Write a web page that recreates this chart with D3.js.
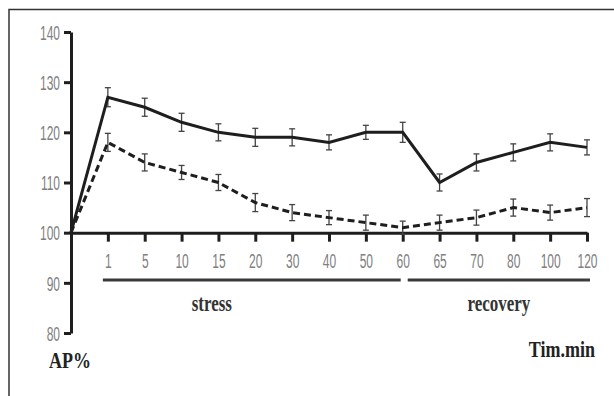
<!DOCTYPE html>
<html>
<head>
<meta charset="utf-8">
<script src="https://cdn.jsdelivr.net/npm/d3@7"></script>
<style>
  body { margin: 0; background: #fff; }
  svg { display: block; }
</style>
</head>
<body>
<div id="chart"></div>
<script>
// time points (min), 0 is the baseline at the origin
const times = ["0", "1", "5", "10", "15", "20", "30", "40", "50", "60", "65", "70", "80", "100", "120"];
// solid line
const solidAP = [100, 127, 125, 122, 120, 119, 119, 118, 120, 120, 110, 114, 116, 118, 117];
const solidErr = [0, 1.9, 1.8, 1.8, 1.7, 1.8, 1.7, 1.5, 1.4, 2.0, 1.7, 1.7, 1.7, 1.7, 1.5];
// dashed line
const dashedAP = [100, 118, 114, 112, 110, 106, 104, 103, 102, 101, 102, 103, 105, 104, 105];
const dashedErr = [0, 1.8, 1.7, 1.4, 1.6, 1.8, 1.6, 1.4, 1.5, 1.3, 1.5, 1.5, 1.7, 1.5, 1.8];
const yTicks = [80, 90, 100, 110, 120, 130, 140];
const phases = ["stress", "recovery"];
const phaseFrom = ["1", "60"];
const phaseTo = ["60", "120"];

const width = 614, height = 396;

const svg = d3.select("#chart").append("svg")
    .attr("width", width)
    .attr("height", height);

// frame (top + left only)
svg.append("path")
    .attr("d", "M9,396 V9.5 H614")
    .attr("fill", "none")
    .attr("stroke", "#333")
    .attr("stroke-width", 1.5);

const x = d3.scalePoint().domain(times).range([71, 587]);
const y = d3.scaleLinear().domain([80, 140]).range([333, 32]);

const ink = "#1e1e1e";
const labelGray = "#808080";

// y axis
const yAxis = svg.append("g")
    .attr("transform", "translate(" + x("0") + ",0)")
    .call(d3.axisLeft(y).tickValues(yTicks).tickSize(7).tickSizeOuter(0).tickFormat(d3.format("d")));
yAxis.select(".domain").attr("stroke", ink).attr("stroke-width", 3);
yAxis.selectAll(".tick line").attr("stroke", ink).attr("stroke-width", 3);
yAxis.selectAll(".tick text")
    .attr("x", null).attr("dy", null)
    .attr("fill", labelGray)
    .attr("font-family", "Liberation Sans, Arial, sans-serif")
    .attr("font-size", 20)
    .attr("text-anchor", "end")
    .attr("dominant-baseline", "central")
    .attr("transform", "translate(-11,0) scale(0.6,1)");

// x axis on the 100 line
const xAxis = svg.append("g")
    .attr("transform", "translate(0," + y(100) + ")")
    .call(d3.axisBottom(x).tickValues(times.slice(1)).tickSize(9).tickSizeOuter(0));
xAxis.select(".domain").attr("stroke", ink).attr("stroke-width", 3);
xAxis.selectAll(".tick line").attr("stroke", ink).attr("stroke-width", 3);
xAxis.selectAll(".tick text")
    .attr("y", null).attr("dy", null)
    .attr("fill", labelGray)
    .attr("font-family", "Liberation Sans, Arial, sans-serif")
    .attr("font-size", 20)
    .attr("text-anchor", "middle")
    .attr("dominant-baseline", "central")
    .attr("transform", "translate(0,28) scale(0.6,1)");

// phase bars and labels
const phaseG = svg.append("g");
phases.forEach(function (p, i) {
    let x0 = i === 0 ? x(phaseFrom[i]) - 5 : x(phaseFrom[i]) + 5;
    let x1 = i === 0 ? x(phaseTo[i]) - 2 : x(phaseTo[i]) + 3;
    phaseG.append("line")
        .attr("x1", x0).attr("x2", x1)
        .attr("y1", 280).attr("y2", 280)
        .attr("stroke", "#3a3a3a")
        .attr("stroke-width", 3);
    phaseG.append("text")
        .attr("transform", "translate(" + ((x0 + x1) / 2 + (i === 0 ? -40 : 0)) + ",311) scale(1,1.3)")
        .attr("text-anchor", "middle")
        .attr("font-family", "Liberation Serif, Times New Roman, serif")
        .attr("font-weight", "bold")
        .attr("font-size", 17)
        .attr("fill", "#333")
        .text(p);
});

// axis titles
svg.append("text")
    .attr("transform", "translate(595,357) scale(1,1.25)")
    .attr("text-anchor", "end")
    .attr("font-family", "Liberation Serif, Times New Roman, serif")
    .attr("font-weight", "bold")
    .attr("font-size", 18)
    .attr("fill", "#222")
    .text("Tim.min");

svg.append("text")
    .attr("transform", "translate(49,368) scale(1,1.25)")
    .attr("text-anchor", "start")
    .attr("font-family", "Liberation Serif, Times New Roman, serif")
    .attr("font-weight", "bold")
    .attr("font-size", 18)
    .attr("fill", "#222")
    .text("AP%");

// series
const series = [
    {values: solidAP, errs: solidErr, dash: null},
    {values: dashedAP, errs: dashedErr, dash: "7,4"}
];

const line = d3.line()
    .x(function (d) { return x(d.t); })
    .y(function (d) { return y(d.v); });

series.forEach(function (s) {
    let pts = times.map(function (t, i) { return {t: t, v: s.values[i], e: s.errs[i]}; });
    let g = svg.append("g");

    let bars = g.selectAll("g.err")
        .data(pts.filter(function (d) { return d.e > 0; }))
        .enter().append("g")
        .attr("class", "err")
        .attr("stroke", "#444")
        .attr("stroke-width", 1.3);
    bars.append("line")
        .attr("x1", function (d) { return x(d.t); })
        .attr("x2", function (d) { return x(d.t); })
        .attr("y1", function (d) { return y(d.v + d.e); })
        .attr("y2", function (d) { return y(d.v - d.e); });
    bars.append("line")
        .attr("x1", function (d) { return x(d.t) - 3; })
        .attr("x2", function (d) { return x(d.t) + 3; })
        .attr("y1", function (d) { return y(d.v + d.e); })
        .attr("y2", function (d) { return y(d.v + d.e); });
    bars.append("line")
        .attr("x1", function (d) { return x(d.t) - 3; })
        .attr("x2", function (d) { return x(d.t) + 3; })
        .attr("y1", function (d) { return y(d.v - d.e); })
        .attr("y2", function (d) { return y(d.v - d.e); });

    g.append("path")
        .datum(pts)
        .attr("d", line)
        .attr("fill", "none")
        .attr("stroke", ink)
        .attr("stroke-width", 3)
        .attr("stroke-dasharray", s.dash);
});
</script>
</body>
</html>
